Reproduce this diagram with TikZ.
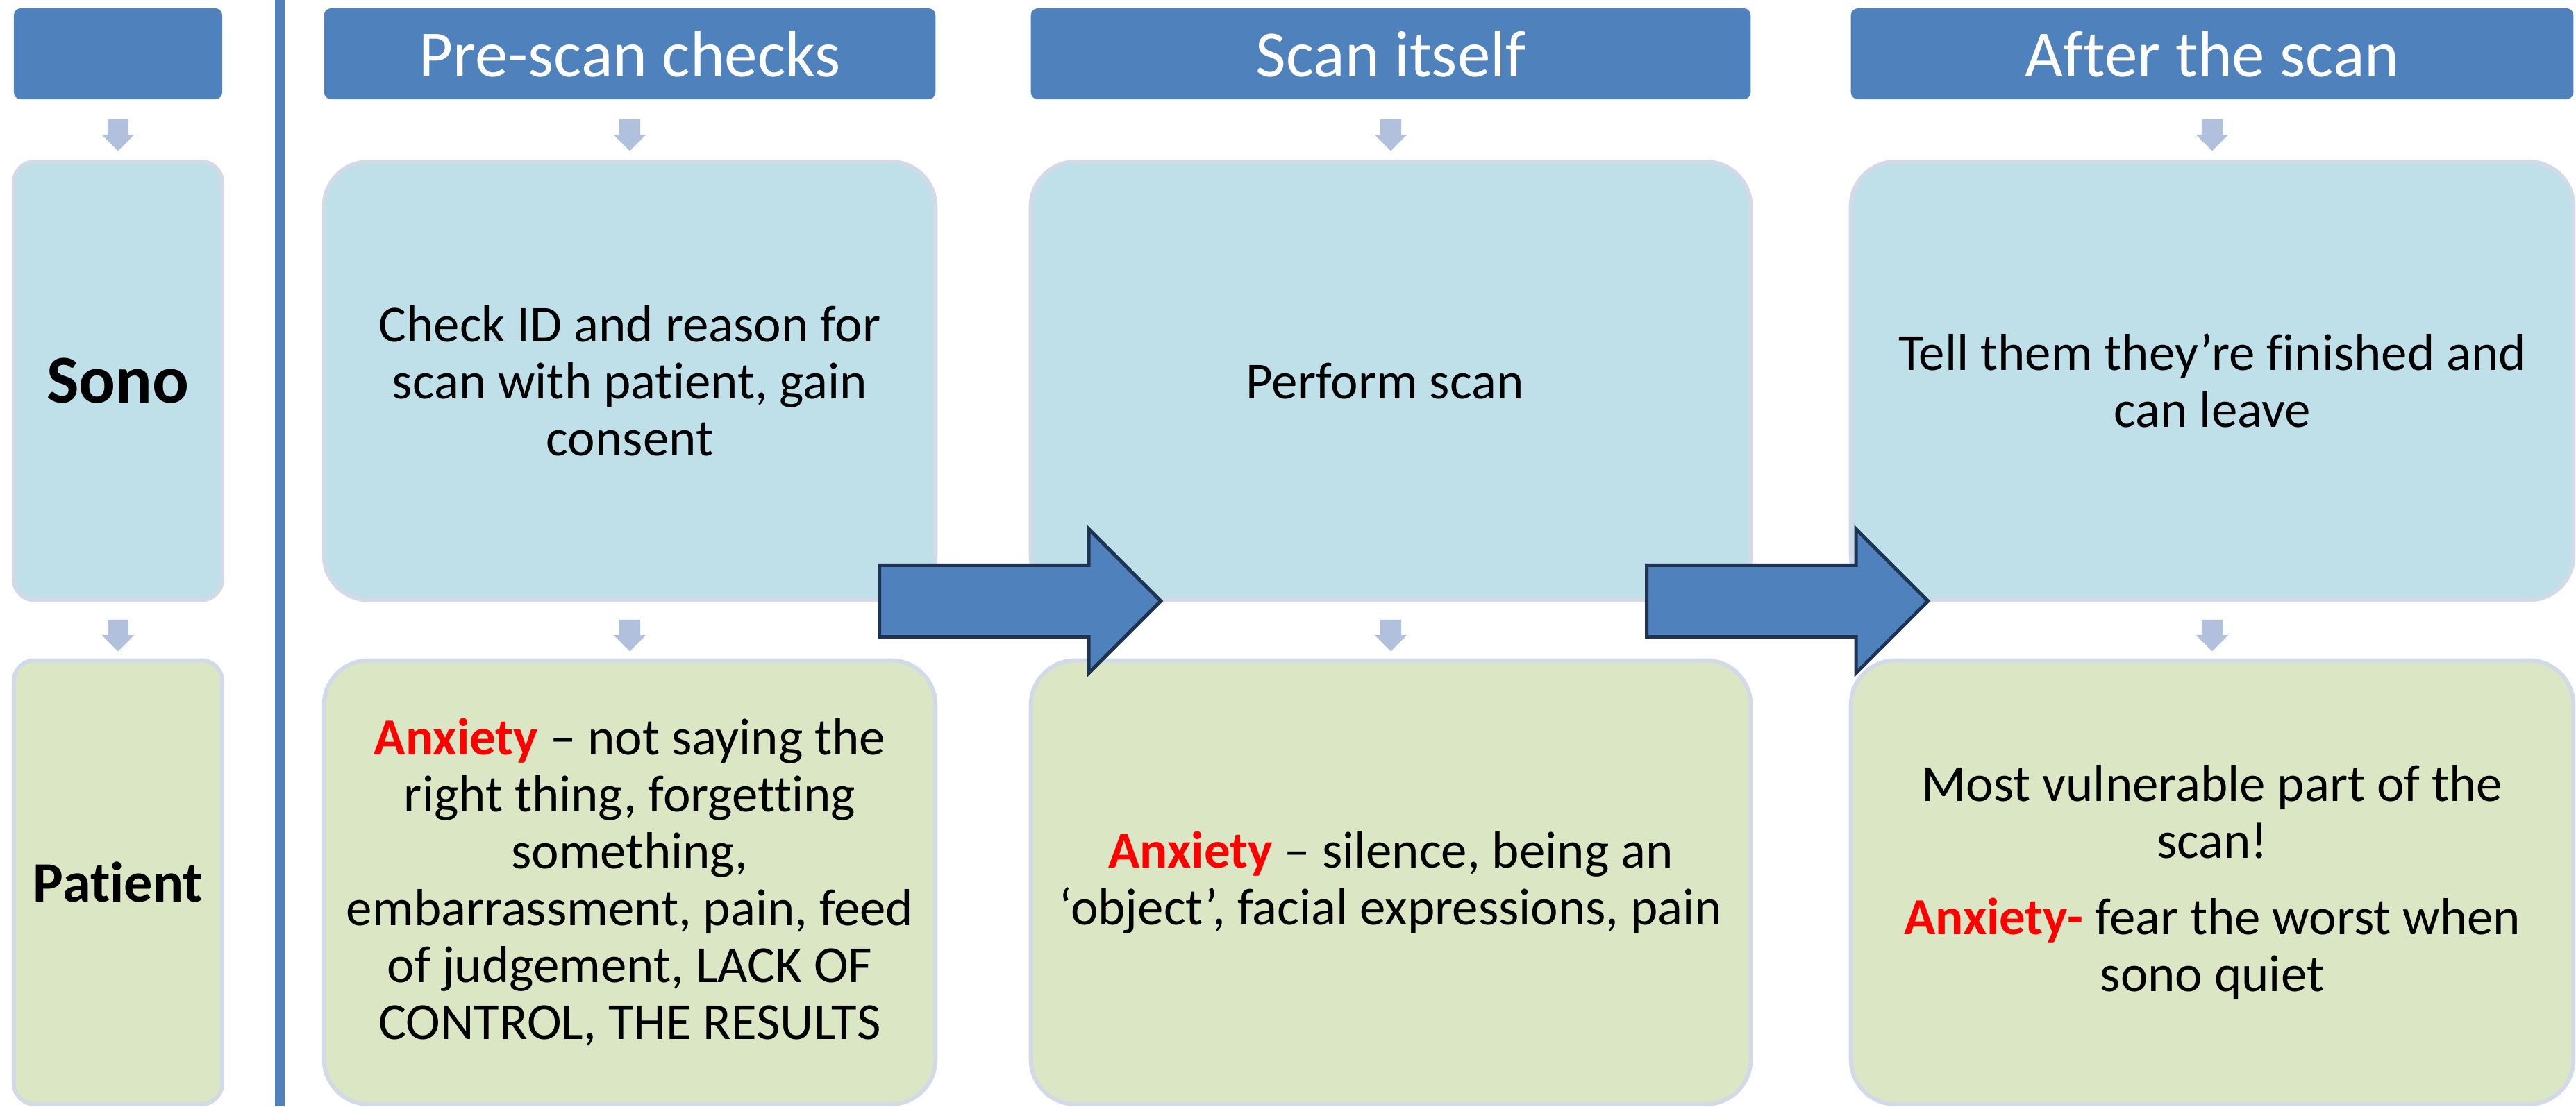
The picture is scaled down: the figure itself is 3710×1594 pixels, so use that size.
\documentclass[tikz,border=0pt]{standalone}
\usepackage{fontspec}
\setmainfont{Carlito}[Ligatures={TeX,NoCommon}]
\usepackage{tikz}
\usetikzlibrary{positioning, calc, shapes.arrows}
\definecolor{headblue}{RGB}{79,129,189}
\definecolor{sonofill}{RGB}{191,224,232}
\definecolor{patfill}{RGB}{219,230,196}
\definecolor{boxline}{RGB}{210,218,232}
\definecolor{stepgrey}{RGB}{176,192,221}
\definecolor{arrline}{RGB}{30,52,82}
\newcommand{\anx}[1]{\textcolor{red}{\textbf{#1}}}
\tikzset{header/.style={fill=headblue, text=white, rounded corners=0.1cm, minimum height=1.31cm, font=\fontsize{27}{30}\selectfont},
	card/.style={draw=boxline, line width=0.06cm, align=center, font=\fontsize{21.3}{23.3}\selectfont},
	sono/.style={card, fill=sonofill, minimum height=6.31cm},
	pat/.style={card, fill=patfill, minimum height=6.39cm},
	flowdown/.style={single arrow, fill=stepgrey, shape border rotate=270, minimum height=0.45cm, minimum width=0.45cm, single arrow head extend=0.08cm, inner sep=0.145cm},
	bigflow/.style={single arrow, fill=headblue, draw=arrline, line width=0.05cm, minimum height=4.05cm, minimum width=2.02cm, single arrow head extend=0.52cm, inner sep=0.49cm, anchor=tail}}
\begin{document}
\begin{tikzpicture}[x=0.01cm, y=-0.01cm]
	\useasboundingbox (0,0) rectangle (3710,1594);

	\draw[headblue, line width=0.14cm] (403,0) -- (403,1594);

	\node[header, minimum width=3cm] (h0) at (170,77.5) {};
	\node[sono, minimum width=3cm, rounded corners=0.3cm, below=0.863cm of h0,
		font=\fontsize{28}{32}\selectfont\bfseries] (s0) {Sono};
	\node[pat, minimum width=3cm, rounded corners=0.3cm, below=0.81cm of s0,
		font=\fontsize{23.4}{26}\selectfont\bfseries] (p0) {Patient};

	\node[header, minimum width=8.8cm] (h1) at (907,77.5) {Pre-scan checks};
	\node[sono, minimum width=8.8cm, rounded corners=0.64cm, below=0.863cm of h1] (s1) {
		Check ID and reason for\\scan with patient, gain\\consent
	};
	\node[pat, minimum width=8.8cm, rounded corners=0.64cm, below=0.81cm of s1] (p1) {
		\anx{Anxiety} – not saying the\\right thing, forgetting\\something,\\embarrassment, pain, feed\\of judgement, LACK OF\\CONTROL, THE RESULTS
	};

	\node[header, minimum width=10.36cm] (h2) at (2003,77.5) {Scan itself};
	\node[sono, minimum width=10.36cm, rounded corners=0.64cm, below=0.863cm of h2] (s2) {
		Perform scan
	};
	\node[pat, minimum width=10.36cm, rounded corners=0.64cm, below=0.81cm of s2] (p2) {
		\anx{Anxiety} – silence, being an\\‘object’, facial expressions, pain
	};

	\node[header, minimum width=10.4cm] (h3) at (3186,77.5) {After the scan};
	\node[sono, minimum width=10.4cm, rounded corners=0.64cm, below=0.863cm of h3] (s3) {
		Tell them they’re finished and\\can leave
	};
	\node[pat, minimum width=10.4cm, rounded corners=0.64cm, below=0.81cm of s3] (p3) {
		Most vulnerable part of the\\scan!\\[8pt]\anx{Anxiety-} fear the worst when\\sono quiet
	};

	\node[flowdown] (d0a) at ($(h0.south)!0.5!(s0.north)$) {};
	\node[flowdown] (d0b) at ($(s0.south)!0.5!(p0.north)$) {};
	\node[flowdown] (d1a) at ($(h1.south)!0.5!(s1.north)$) {};
	\node[flowdown] (d1b) at ($(s1.south)!0.5!(p1.north)$) {};
	\node[flowdown] (d2a) at ($(h2.south)!0.5!(s2.north)$) {};
	\node[flowdown] (d2b) at ($(s2.south)!0.5!(p2.north)$) {};
	\node[flowdown] (d3a) at ($(h3.south)!0.5!(s3.north)$) {};
	\node[flowdown] (d3b) at ($(s3.south)!0.5!(p3.north)$) {};

	\node[bigflow] (f1) at (1264,866) {};
	\node[bigflow] (f2) at (2369,866) {};
\end{tikzpicture}
\end{document}
